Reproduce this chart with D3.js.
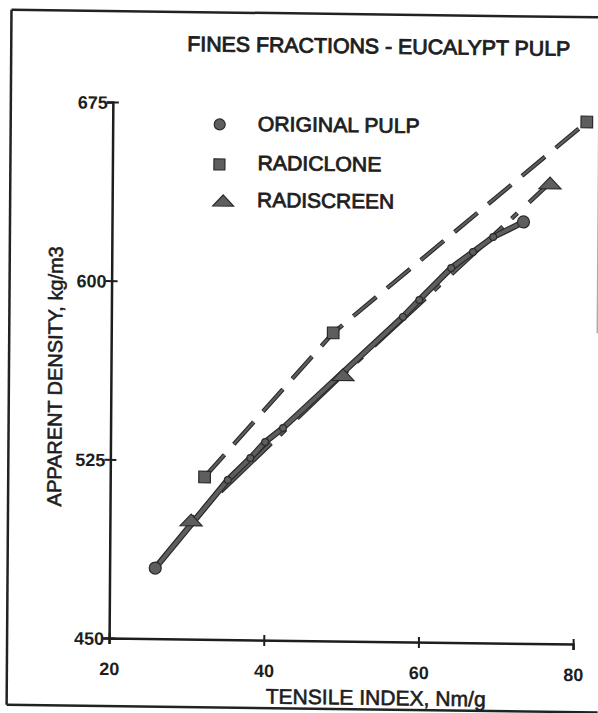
<!DOCTYPE html>
<html>
<head>
<meta charset="utf-8">
<script src="https://cdn.jsdelivr.net/npm/d3@7"></script>
<style>
  body { margin: 0; background: #fff; }
  svg { display: block; }
</style>
</head>
<body>
<div id="chart"></div>
<script>
// Fines fractions - eucalypt pulp
const title = 'FINES FRACTIONS - EUCALYPT PULP';
const xTitle = 'TENSILE INDEX, Nm/g';
const yTitle = 'APPARENT DENSITY, kg/m3';
const xTicks = [20, 40, 60, 80];
const yTicks = [450, 525, 600, 675];
const seriesNames = ['ORIGINAL PULP', 'RADICLONE', 'RADISCREEN'];

const originalTensile = [25.9, 35.2, 38.1, 40.0, 42.3, 57.7, 59.8, 63.9, 66.7, 69.3, 73.2];
const originalDensity = [479.6, 517.0, 526.3, 533.1, 539.1, 586.4, 593.6, 607.2, 614.0, 620.4, 626.9];
const radicloneTensile = [32.2, 48.7, 81.3];
const radicloneDensity = [518.1, 579.3, 669.2];
const radiscreenTensile = [30.5, 50.0, 76.6];
const radiscreenDensity = [500.0, 561.8, 643.4];

const W = 598, H = 713;
const font = '"Liberation Sans", Arial, sans-serif';
const ink = '#1e1e1e';
const grey = '#5e5e5e';

const zip = (xs, ys) => xs.map((v, i) => ({ x: v, y: ys[i] }));
const series = [
    { name: seriesNames[0], data: zip(originalTensile, originalDensity), shape: 'circle', dash: null },
    { name: seriesNames[1], data: zip(radicloneTensile, radicloneDensity), shape: 'square', dash: '30,14' },
    { name: seriesNames[2], data: zip(radiscreenTensile, radiscreenDensity), shape: 'triangle', dash: 'end' }
];

const svg = d3.select('#chart').append('svg')
    .attr('width', W)
    .attr('height', H);

svg.append('rect').attr('width', W).attr('height', H).attr('fill', '#fff');

// the scan is slightly skewed, so everything is drawn in a skewed group
const g = svg.append('g')
    .attr('transform', 'translate(340,370) matrix(1,0.013,-0.007,1,0,0) translate(-340,-370)');

// Frame
const frame = g.append('g').attr('fill', 'none').attr('stroke', '#222');
frame.append('line').attr('x1', 9).attr('x2', 600).attr('y1', 14).attr('y2', 14).attr('stroke-width', 2.5);
frame.append('line').attr('x1', 9).attr('x2', 9).attr('y1', 14).attr('y2', 709).attr('stroke-width', 2.5);
frame.append('line').attr('x1', 9).attr('x2', 600).attr('y1', 709).attr('y2', 709).attr('stroke-width', 2.5);
frame.append('line').attr('x1', 597).attr('x2', 597).attr('y1', 14).attr('y2', 330)
    .attr('stroke', '#aaa').attr('stroke-width', 1.5);

// Scales
const x = d3.scaleLinear().domain([20, 80]).range([111, 575]);
const y = d3.scaleLinear().domain([450, 675]).range([641, 105]);

// X axis
g.append('g')
    .attr('transform', `translate(0,${y(450)})`)
    .call(d3.axisBottom(x).tickValues(xTicks).tickSizeOuter(0).tickSize(6))
    .call(a => a.select('.domain').attr('stroke', ink).attr('stroke-width', 2.5))
    .call(a => a.selectAll('.tick line').attr('y1', -5).attr('y2', 6).attr('stroke', ink).attr('stroke-width', 2))
    .call(a => a.selectAll('.tick text')
        .attr('y', 37).attr('dy', 0)
        .attr('font-family', font).attr('font-size', 18).attr('font-weight', 'bold')
        .attr('fill', ink));

// Y axis
g.append('g')
    .attr('transform', `translate(${x(20)},0)`)
    .call(d3.axisLeft(y).tickValues(yTicks).tickSizeOuter(0).tickSize(6))
    .call(a => a.select('.domain').attr('stroke', ink).attr('stroke-width', 2.5))
    .call(a => a.selectAll('.tick line').attr('x1', -6).attr('x2', 6).attr('stroke', ink).attr('stroke-width', 2))
    .call(a => a.selectAll('.tick text')
        .attr('x', -5).attr('dy', '0.36em')
        .attr('font-family', font).attr('font-size', 18).attr('font-weight', 'bold')
        .attr('fill', ink));

// Lines (drawn as dark outline + grey core, like the printed figure)
const line = d3.line().x(d => x(d.x)).y(d => y(d.y));

const drawOrder = [series[1], series[2], series[0]];
drawOrder.forEach(s => {
    const outer = g.append('path').datum(s.data)
        .attr('d', line).attr('fill', 'none')
        .attr('stroke', '#2a2a2a').attr('stroke-width', s.dash ? 4.4 : 6.2);
    const inner = g.append('path').datum(s.data)
        .attr('d', line).attr('fill', 'none')
        .attr('stroke', grey).attr('stroke-width', s.dash ? 2.2 : 3.8);

    if (s.dash === 'end') {
        // long dash / short dash pattern, anchored at the last point
        const L = outer.node().getTotalLength();
        const pattern = [70, 12, 8, 16];
        const period = d3.sum(pattern);
        const offset = ((pattern[0] - (L - 41)) % period + period) % period;
        [outer, inner].forEach(p => p.attr('stroke-dasharray', pattern.join(',')).attr('stroke-dashoffset', -offset));
    } else if (s.dash) {
        [outer, inner].forEach(p => p.attr('stroke-dasharray', s.dash));
    }
});

// Markers
const drawMarker = (sel, shape, size) => {
    if (shape === 'circle') {
        sel.append('circle').attr('r', size);
    } else if (shape === 'square') {
        sel.append('rect').attr('x', -size).attr('y', -size).attr('width', 2 * size).attr('height', 2 * size);
    } else {
        sel.append('path').attr('d', `M${-size * 1.9},${size} L0,${-size} L${size * 1.9},${size} Z`);
    }
};

series.forEach(s => {
    const n = s.data.length;
    s.data.forEach((d, i) => {
        const m = g.append('g')
            .attr('transform', `translate(${x(d.x)},${y(d.y)})`)
            .attr('fill', grey).attr('stroke', '#2a2a2a').attr('stroke-width', 1.2);
        let size = s.shape === 'circle' ? 6 : 5.8;
        if (s.shape === 'circle' && i > 0 && i < n - 1) size = 3.4;
        drawMarker(m, s.shape, size);
    });
});

// Title
g.append('text')
    .attr('x', 185).attr('y', 53)
    .attr('textLength', 383).attr('lengthAdjust', 'spacingAndGlyphs')
    .attr('font-family', font).attr('font-size', 21)
    .attr('fill', ink).attr('stroke', ink).attr('stroke-width', 0.9)
    .text(title);

// Legend
const legendY = [126, 166, 202];
const legendBase = [132, 171, 208];
const legendW = [162, 124, 137];
series.forEach((s, i) => {
    const m = g.append('g')
        .attr('transform', `translate(${s.shape === 'triangle' ? 222 : 218},${legendY[i]})`)
        .attr('fill', grey).attr('stroke', '#2a2a2a').attr('stroke-width', 1.2);
    drawMarker(m, s.shape, 5.5);
    g.append('text')
        .attr('x', 256).attr('y', legendBase[i])
        .attr('textLength', legendW[i]).attr('lengthAdjust', 'spacingAndGlyphs')
        .attr('font-family', font).attr('font-size', 20.5)
        .attr('fill', ink).attr('stroke', ink).attr('stroke-width', 0.8)
        .text(s.name);
});

// Axis titles
g.append('text')
    .attr('x', 378).attr('y', 704.5)
    .attr('text-anchor', 'middle')
    .attr('textLength', 220).attr('lengthAdjust', 'spacingAndGlyphs')
    .attr('font-family', font).attr('font-size', 21)
    .attr('fill', ink).attr('stroke', ink).attr('stroke-width', 0.6)
    .text(xTitle);

g.append('text')
    .attr('transform', 'translate(62,380) rotate(-90)')
    .attr('text-anchor', 'middle')
    .attr('textLength', 260).attr('lengthAdjust', 'spacingAndGlyphs')
    .attr('font-family', font).attr('font-size', 20)
    .attr('fill', ink).attr('stroke', ink).attr('stroke-width', 0.6)
    .text(yTitle);
</script>
</body>
</html>
